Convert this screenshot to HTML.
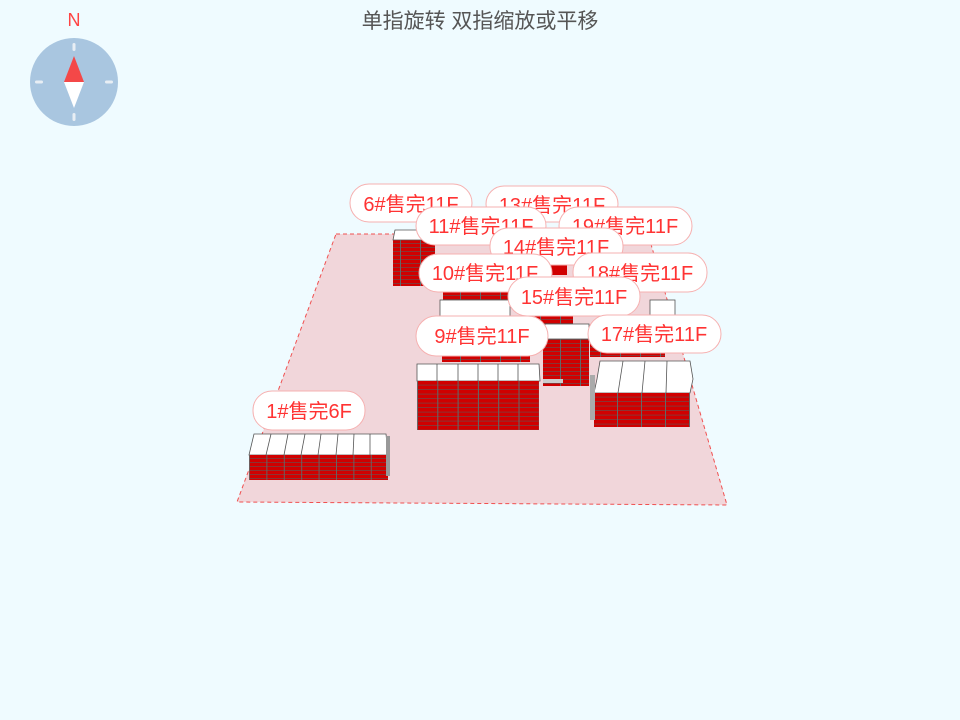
<!DOCTYPE html>
<html><head><meta charset="utf-8"><style>
html,body{margin:0;padding:0;background:#effbff;}
svg{display:block;}
text{font-family:"Liberation Sans","Noto Sans CJK SC",sans-serif;}
</style></head><body>
<svg width="960" height="720" viewBox="0 0 960 720" xmlns="http://www.w3.org/2000/svg">
<defs>
<pattern id="r1" patternUnits="userSpaceOnUse" x="249" y="455" width="17.4" height="4"><rect width="17.4" height="4" fill="#d00000"/><rect y="3.2" width="17.4" height="0.8" fill="#7a4040"/><rect width="0.9" height="4" fill="#666"/></pattern>
<pattern id="r9" patternUnits="userSpaceOnUse" x="417" y="381" width="20.3" height="4.5"><rect width="20.3" height="4.5" fill="#d00000"/><rect y="3.7" width="20.3" height="0.8" fill="#7a4040"/><rect width="1" height="4.5" fill="#666"/></pattern>
<pattern id="r17" patternUnits="userSpaceOnUse" x="593" y="393" width="24" height="4.5"><rect width="24" height="4.5" fill="#d00000"/><rect y="3.7" width="24" height="0.8" fill="#7a4040"/><rect width="1" height="4.5" fill="#666"/></pattern>
<pattern id="rs" patternUnits="userSpaceOnUse" x="0" y="0" width="20" height="4"><rect width="20" height="4" fill="#d00000"/><rect y="3.2" width="20" height="0.8" fill="#7a4040"/><rect width="1" height="4" fill="#666"/></pattern>
</defs>

<text x="480" y="28" font-size="21" fill="#555" text-anchor="middle">单指旋转 双指缩放或平移</text>

<!-- compass -->
<text x="74" y="26" font-size="18" fill="#f44" text-anchor="middle">N</text>
<circle cx="74" cy="82" r="44" fill="#a9c6e0"/>
<rect x="72.5" y="43" width="3" height="8" rx="1.5" fill="#e8eef4"/>
<rect x="72.5" y="113" width="3" height="8" rx="1.5" fill="#e8eef4"/>
<rect x="35" y="80.5" width="8" height="3" rx="1.5" fill="#e8eef4"/>
<rect x="105" y="80.5" width="8" height="3" rx="1.5" fill="#e8eef4"/>
<polygon points="74,56 64,82 84,82" fill="#f44848"/>
<polygon points="64,82 84,82 74,108" fill="#fff"/>

<!-- ground -->
<polygon points="336,234 648,234 727,505 237,502" fill="#f1d6da" stroke="#f05050" stroke-width="1" stroke-dasharray="4,3"/>

<!-- back buildings -->
<rect x="393" y="240" width="42" height="46" fill="url(#rs)"/>
<polygon points="395,230 434,230 435,240 393,240" fill="#fff" stroke="#555" stroke-width="0.8"/>
<rect x="551" y="265" width="16" height="10" fill="#d00000"/>
<rect x="443" y="285" width="75" height="15" fill="url(#rs)"/>
<rect x="440" y="300" width="70" height="16" fill="#fff" stroke="#555" stroke-width="0.8"/>
<rect x="440" y="316" width="133" height="9" fill="url(#rs)"/>
<rect x="442" y="344" width="88" height="18" fill="url(#rs)"/>
<rect x="590" y="335" width="75" height="22" fill="url(#rs)"/>
<rect x="650" y="300" width="25" height="15" fill="#fff" stroke="#555" stroke-width="0.8"/>
<rect x="543" y="338" width="46" height="48" fill="url(#rs)"/>
<rect x="545" y="324" width="44" height="15" fill="#fff" stroke="#555" stroke-width="0.8"/>
<rect x="543" y="379" width="20" height="4" fill="#ccc"/>

<!-- 9# big -->
<polygon points="417,364 539,364 540,381 417,381" fill="#fff" stroke="#555" stroke-width="0.8"/>
<g stroke="#555" stroke-width="0.8"><line x1="437" y1="364" x2="437" y2="381"/><line x1="458" y1="364" x2="458" y2="381"/><line x1="478" y1="364" x2="478" y2="381"/><line x1="498" y1="364" x2="498" y2="381"/><line x1="518" y1="364" x2="518" y2="381"/></g>
<rect x="417" y="381" width="122" height="49" fill="url(#r9)"/>

<!-- 17# -->
<polygon points="600,361 690,361 693,379 690,393 594,393 597,379" fill="#fff" stroke="#555" stroke-width="0.8"/>
<g stroke="#555" stroke-width="0.8"><line x1="623" y1="361" x2="618" y2="393"/><line x1="645" y1="361" x2="642" y2="393"/><line x1="667" y1="361" x2="666" y2="393"/></g>
<rect x="594" y="393" width="96" height="34" fill="url(#r17)"/>
<rect x="590" y="375" width="5" height="45" fill="#aaa"/>

<!-- 1# -->
<polygon points="254,434 386,434 388,455 249,455" fill="#fff" stroke="#555" stroke-width="0.8"/>
<g stroke="#555" stroke-width="0.8"><line x1="271" y1="434" x2="266" y2="455"/><line x1="288" y1="434" x2="284" y2="455"/><line x1="305" y1="434" x2="301" y2="455"/><line x1="321" y1="434" x2="318" y2="455"/><line x1="338" y1="434" x2="336" y2="455"/><line x1="354" y1="434" x2="353" y2="455"/><line x1="370" y1="434" x2="370" y2="455"/></g>
<rect x="249" y="455" width="139" height="25" fill="url(#r1)"/>
<rect x="386" y="436" width="4" height="40" fill="#999"/>

<!-- labels -->
<g font-size="20" fill="#f33" text-anchor="middle">
<rect x="350" y="184" width="122" height="38" rx="19" fill="#fff" stroke="#f6b0b0"/><text x="411" y="211">6#售完11F</text>
<rect x="486" y="186" width="132" height="36" rx="18" fill="#fff" stroke="#f6b0b0"/><text x="552" y="212">13#售完11F</text>
<rect x="416" y="207" width="130" height="38" rx="19" fill="#fff" stroke="#f6b0b0"/><text x="481" y="233">11#售完11F</text>
<rect x="559" y="207" width="133" height="38" rx="19" fill="#fff" stroke="#f6b0b0"/><text x="625" y="233">19#售完11F</text>
<rect x="490" y="228" width="133" height="37" rx="18" fill="#fff" stroke="#f6b0b0"/><text x="556" y="254">14#售完11F</text>
<rect x="419" y="254" width="133" height="38" rx="19" fill="#fff" stroke="#f6b0b0"/><text x="485" y="280">10#售完11F</text>
<rect x="573" y="253" width="134" height="39" rx="19" fill="#fff" stroke="#f6b0b0"/><text x="640" y="280">18#售完11F</text>
<rect x="508" y="277" width="132" height="39" rx="19" fill="#fff" stroke="#f6b0b0"/><text x="574" y="304">15#售完11F</text>
<rect x="416" y="316" width="132" height="40" rx="20" fill="#fff" stroke="#f6b0b0"/><text x="482" y="343">9#售完11F</text>
<rect x="588" y="315" width="133" height="38" rx="19" fill="#fff" stroke="#f6b0b0"/><text x="654" y="341">17#售完11F</text>
<rect x="253" y="391" width="112" height="39" rx="19" fill="#fff" stroke="#f6b0b0"/><text x="309" y="418">1#售完6F</text>
</g>
</svg>
</body></html>
